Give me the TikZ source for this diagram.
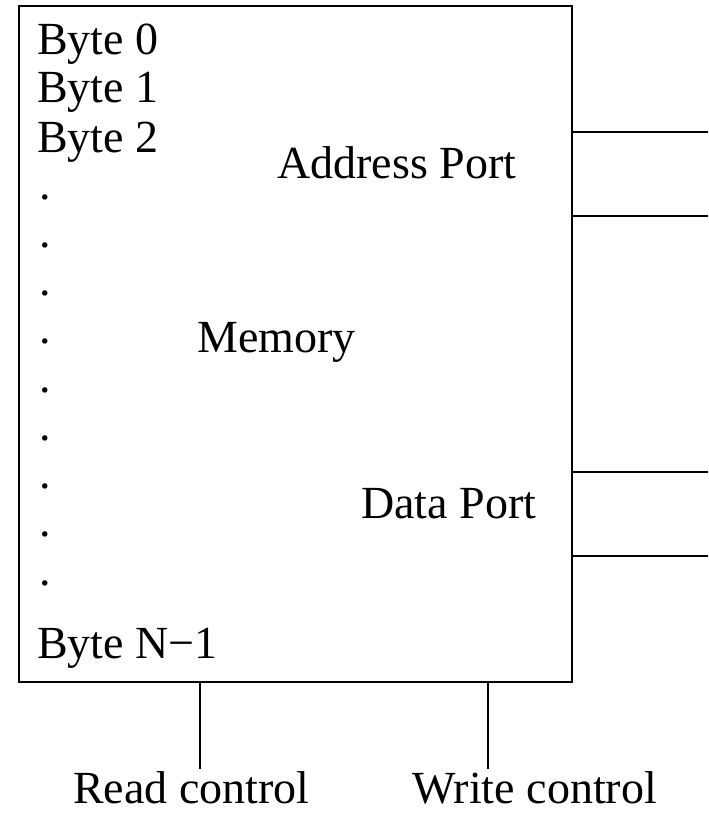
\documentclass[tikz,border=0pt]{standalone}
\usepackage{fontspec}
\setmainfont{Liberation Serif}
\usepackage{tikz}
\usetikzlibrary{calc}

\begin{document}
\begin{tikzpicture}[
    x=0.75pt, y=-0.75pt,
    membox/.style={draw, line width=1.5pt, inner sep=0pt, outer sep=0pt, minimum width=414.75pt, minimum height=507pt},
    lbl/.style={font=\fontsize{34.5}{38}\selectfont, inner sep=0pt, anchor=base west},
    wire/.style={line width=1.5pt}
]
\useasboundingbox (0,0) rectangle (708,813);
\node[membox] (mem) at (295.5,344) {};

\node[lbl] (b0) at (37,55) {Byte 0};
\node[lbl] (b1) at (37,103) {Byte 1};
\node[lbl] (b2) at (37,152) {Byte 2};
\foreach \k in {0,...,8}
    \node[lbl] (dot\k) at (39,199+48.25*\k) {.};
\node[lbl] (bn) at (37,658) {Byte N−1};

\node[lbl] (mlbl) at (197,352) {Memory};
\node[lbl] (albl) at (277,178) {Address Port};
\node[lbl] (dlbl) at (361,518) {Data Port};

% ports on the right
\coordinate (a1) at (708,132);
\coordinate (a2) at (708,216);
\coordinate (d1) at (708,472);
\coordinate (d2) at (708,556);
\foreach \p in {a1,a2,d1,d2}
    \draw[wire] (mem.east |- \p) -- (\p);

% control lines
\coordinate (rd) at (200,769);
\coordinate (wr) at (488,769);
\draw[wire] (mem.south -| rd) -- (rd);
\draw[wire] (mem.south -| wr) -- (wr);
\node[lbl, text depth=0pt] (rlbl) at (73,803) {Read control};
\node[lbl, text depth=0pt] (wlbl) at (412,803) {Write control};
\end{tikzpicture}
\end{document}
